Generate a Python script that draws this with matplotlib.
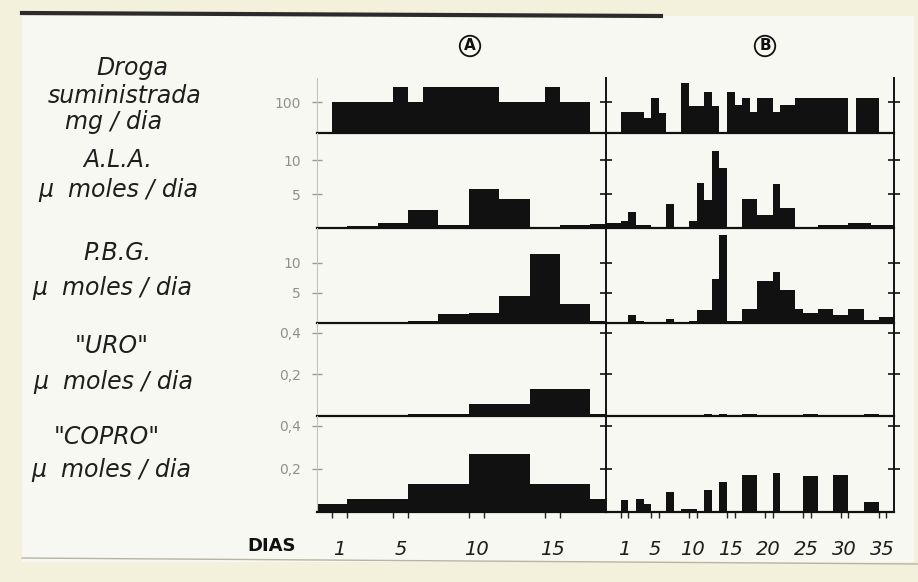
import matplotlib.pyplot as plt
from matplotlib.lines import Line2D
from matplotlib.patches import Rectangle

droga_a_dias = [0, 4, 5, 6, 11, 14, 15, 17]
droga_a = [100, 150, 100, 150, 100, 150, 100]
droga_b_dias = [0, 3, 4, 5, 6, 8, 9, 11, 12, 13, 14, 15, 16, 17, 18, 20, 21, 23, 30, 31, 34]
droga_b = [70, 50, 115, 67, 0, 165, 87, 135, 89, 0, 135, 92, 115, 68, 115, 70, 92, 115, 0, 115]

ala_a_dias = [1, 3, 5, 7, 9, 11, 13, 15, 17, 18]
ala_a = [0.3, 0.8, 2.6, 0.5, 5.8, 4.3, 0.2, 0.4, 0.6]
ala_b_dias = [-2, 0, 1, 2, 4, 6, 7, 9, 10, 11, 12, 13, 14, 16, 18, 20, 21, 23, 26, 30, 33, 36]
ala_b = [0.7, 1.0, 2.3, 0.5, 0, 3.6, 0, 1.0, 6.7, 4.1, 11.4, 8.9, 0, 4.2, 1.9, 6.5, 2.9,
         0.1, 0.5, 0.7, 0.4]

pbg_a_dias = [1, 5, 7, 9, 11, 13, 15, 17, 18]
pbg_a = [0.2, 0.4, 1.5, 1.7, 4.5, 11.4, 3.1, 0.4]
pbg_b_dias = [-2, 0, 1, 2, 3, 6, 7, 8, 9, 10, 12, 13, 14, 16, 18, 20, 21, 23, 24, 26, 28,
              30, 32, 34, 36]
pbg_b = [0.2, 0.1, 1.4, 0.3, 0.2, 0.7, 0.1, 0, 0.4, 2.1, 7.3, 14.7, 0.4, 2.4, 7.0, 8.4,
         5.5, 2.3, 1.7, 2.4, 1.3, 2.3, 0.5, 1.0]

uro_a_dias = [5, 9, 13, 17, 18]
uro_a = [0.01, 0.06, 0.13, 0.01]
uro_b_dias = [11, 12, 13, 14, 16, 18, 24, 26, 32, 34]
uro_b = [0.01, 0, 0.01, 0, 0.01, 0, 0.01, 0, 0.01]

copro_a_dias = [-1, 1, 5, 9, 13, 17, 18]
copro_a = [0.035, 0.06, 0.13, 0.27, 0.13, 0.06]
copro_b_dias = [0, 1, 2, 3, 4, 6, 7, 8, 10, 11, 12, 13, 14, 16, 18, 20, 21, 24, 26, 28,
                30, 32, 34]
copro_b = [0.058, 0, 0.06, 0.038, 0, 0.093, 0, 0.013, 0, 0.103, 0, 0.14, 0, 0.17, 0,
           0.18, 0, 0.165, 0, 0.17, 0, 0.045]

titulos = [["Droga", "suministrada", "mg / dia"],
           ["A.L.A.", "\u00b5  moles / dia"],
           ["P.B.G.", "\u00b5  moles / dia"],
           ['"URO"', "\u00b5  moles / dia"],
           ['"COPRO"', "\u00b5  moles / dia"]]
ytick_vals = [[100], [5, 10], [5, 10], [0.2, 0.4], [0.2, 0.4]]
ytick_txt = [["100"], ["5", "10"], ["5", "10"], ["0,2", "0,4"], ["0,2", "0,4"]]
ytop = [180, 14, 15.8, 0.448, 0.446]
dias_a = [1, 5, 10, 15]
dias_b = [1, 5, 10, 15, 20, 25, 30, 35]

series_a = [(droga_a_dias, droga_a), (ala_a_dias, ala_a), (pbg_a_dias, pbg_a),
            (uro_a_dias, uro_a), (copro_a_dias, copro_a)]
series_b = [(droga_b_dias, droga_b), (ala_b_dias, ala_b), (pbg_b_dias, pbg_b),
            (uro_b_dias, uro_b), (copro_b_dias, copro_b)]

W, H = 918, 582
fig = plt.figure(figsize=(W / 100, H / 100), dpi=100, facecolor='#f3f1dc')
fig.patches.append(Rectangle((22 / W, 1 - 562 / H), 892 / W, 546 / H,
                             transform=fig.transFigure, fc='#f8f8f3', ec='none', zorder=-5))
fig.lines.append(Line2D([22 / W, 0.72], [1 - 13 / H, 1 - 16 / H], transform=fig.transFigure,
                        color='#2b2b2b', lw=3))
fig.lines.append(Line2D([22 / W, 1], [1 - 558 / H, 1 - 564 / H], transform=fig.transFigure,
                        color='#b8b4a0', lw=1))

filas = [(78, 133), (133, 228), (228, 323), (323, 416), (416, 512)]
title_y = [[68, 96, 122], [160, 190], [253, 288], [346, 382], [437, 470]]
title_x = [[132, 125, 114], [118, 118], [117, 112], [112, 113], [107, 111]]
a_left, a_w = 316.8, 288.8
b_left, b_w = a_left + a_w, 288.4

for i, (top, bot) in enumerate(filas):
    y0, h = 1 - bot / H, (bot - top) / H
    axa = fig.add_axes([a_left / W, y0, a_w / W, h])
    axb = fig.add_axes([b_left / W, y0, b_w / W, h])

    axa.stairs(series_a[i][1], series_a[i][0], fill=True, color='#111111', lw=0)
    axb.stairs(series_b[i][1], series_b[i][0], fill=True, color='#111111', lw=0)
    axa.set_xlim(-1, 18)
    axb.set_xlim(-2, 36)

    for ax in (axa, axb):
        ax.set_ylim(0, ytop[i])
        ax.set_facecolor('none')
        ax.spines['top'].set_visible(False)
        ax.spines['bottom'].set_color('#111111')
        ax.spines['bottom'].set_linewidth(1.6)
        ax.set_yticks(ytick_vals[i])
        ax.set_xticks([])

    axa.spines['right'].set_visible(False)
    axa.spines['left'].set_color('#c4c4bc')
    axa.spines['left'].set_linewidth(0.8)
    axa.set_yticklabels(ytick_txt[i])
    axa.tick_params(axis='y', direction='inout', length=7, width=1, color='#9a9a9a',
                    labelcolor='#8f8f8f', labelsize=10, pad=8)

    for side in ('left', 'right'):
        axb.spines[side].set_color('#111111')
        axb.spines[side].set_linewidth(1.4)
    axb.tick_params(axis='y', left=True, right=True, labelleft=False, direction='inout',
                    length=9, width=1.2, color='#111111')

    for txt, tx, ty in zip(titulos[i], title_x[i], title_y[i]):
        fig.text(tx / W, 1 - ty / H, txt, ha='center', va='center', fontsize=17,
                 style='italic', color='#1e1e1e')

    if i == len(filas) - 1:
        for ax, dias in ((axa, dias_a), (axb, dias_b)):
            bordes = [d - 1 for d in dias] + dias
            ax.set_xticks(bordes)
            ax.set_xticklabels([])
            ax.set_xticks([d - 0.5 for d in dias], [str(d) for d in dias], minor=True)
            ax.tick_params(axis='x', which='major', direction='out', length=4, width=1,
                           color='#222222')
            ax.tick_params(axis='x', which='minor', length=0, pad=20, labelsize=14)
            for lab in ax.get_xticklabels(minor=True):
                lab.set_style('italic')
                lab.set_color('#1e1e1e')

fig.text(272 / W, 1 - 546 / H, "DIAS", ha='center', va='center', fontsize=13,
         fontweight='bold', color='#111111')
for letra, x in (("A", 470), ("B", 765)):
    fig.text(x / W, 1 - 46 / H, letra, ha='center', va='center', fontsize=11,
             fontweight='bold', color='#111111',
             bbox=dict(boxstyle='circle,pad=0.18', fc='none', ec='#111111', lw=1.3))

fig.savefig('out.png', dpi=100, facecolor=fig.get_facecolor())
